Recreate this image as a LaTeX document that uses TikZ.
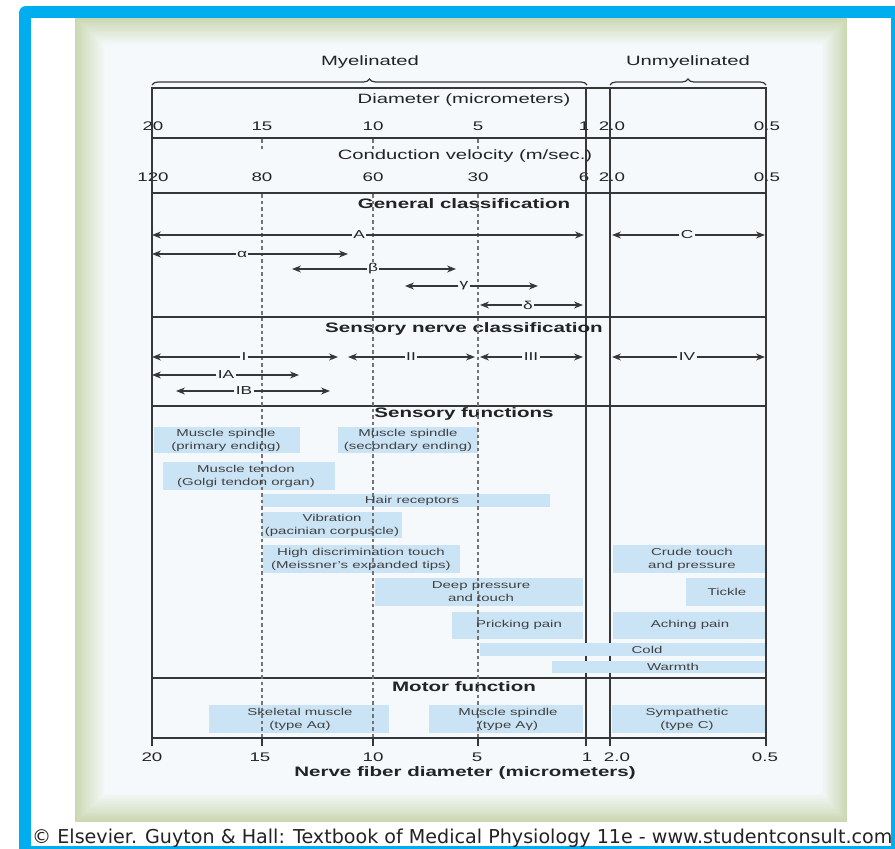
\documentclass[tikz,border=0pt]{standalone}
\usepackage{fontspec}
\setmainfont{Liberation Sans}[FakeStretch=1.5]
\newfontfamily\copyfont{DejaVu Sans}
\usetikzlibrary{arrows.meta,decorations.pathreplacing}
\definecolor{frameblue}{RGB}{0,174,239}
\definecolor{panelgreen}{RGB}{204,216,180}
\definecolor{panelin}{RGB}{246,249,252}
\definecolor{boxblue}{RGB}{203,228,245}
\definecolor{ink}{RGB}{55,55,55}
\definecolor{txt}{RGB}{35,35,35}
\definecolor{boxtxt}{RGB}{65,65,65}
\newcommand\rng[6]{%
  \node[lbl] (#1) at (#4,#2) {#6};
  \coordinate (#1L) at (#3,#2);
  \coordinate (#1R) at (#5,#2);
  \draw[arr] (#1) -- (#1L);
  \draw[arr] (#1) -- (#1R);
}
\newcommand\fnbox[5]{\fill[boxblue] (#2,#3) rectangle (#4,#5);\coordinate (#1) at ({(#2+#4)/2},{(#3+#5)/2});}
\begin{document}
\begin{tikzpicture}[x=1pt,y=-1pt,
  hline/.style={draw=ink,line width=1.4pt},
  bigline/.style={draw=ink,line width=2pt},
  vline/.style={draw=ink,line width=1.3pt},
  dashline/.style={draw=ink!70,line width=1.1pt,dash pattern=on 3.5pt off 3pt},
  arr/.style={draw=ink,line width=1.1pt,-{Stealth[length=9pt,width=7pt]}},
  lbl/.style={fill=panelin,inner sep=1.2pt,font=\fontsize{11.5}{12}\selectfont,text=txt},
  num/.style={inner sep=0pt,font=\fontsize{12.5}{13}\selectfont,text=txt},
  axtitle/.style={inner sep=0pt,font=\fontsize{13.5}{14}\selectfont,text=txt},
  heading/.style={inner sep=0pt,font=\fontsize{13.7}{14}\selectfont\bfseries,text=txt},
  boxtext/.style={inner sep=0pt,align=center,font=\fontsize{10}{13}\selectfont,text=boxtxt},
  brace/.style={draw=ink,line width=1.2pt,decorate,decoration={brace,amplitude=6pt}}]
\useasboundingbox (0,0) rectangle (895,849);
\clip (0,0) rectangle (895,849);
% frame
\fill[frameblue,rounded corners=7pt] (19,6) rectangle (910,870);
\fill[white] (31,18) rectangle (891,846);
% panel with soft edge
\foreach \i in {0,...,15}{
  \pgfmathtruncatemacro\pc{\i*100/15}
  \fill[panelin!\pc!panelgreen] ({75+2*\i},{18+1.8*\i}) rectangle ({847-1.7*\i},{822-1.9*\i});
}
% braces and top labels
\draw[brace] (152,85) -- (587,85);
\draw[brace] (610,85) -- (766,85);
\node[axtitle] (myel) at (370,62) {Myelinated};
\node[axtitle] (unmyel) at (688,62) {Unmyelinated};
% scale titles
\node[axtitle] (diam) at (464,100) {Diameter (micrometers)};
\node[axtitle] (cond) at (465,156) {Conduction velocity (m/sec.)};
% diameter numbers
\node[num] (d20) at (153,126) {20};
\node[num] (d15) at (262,126) {15};
\node[num] (d10) at (373,126) {10};
\node[num] (d5) at (478,126) {5};
\node[num] (d1) at (584,126) {1};
\node[num] (d2) at (612,126) {2.0};
\node[num] (d05) at (767,126) {0.5};
% velocity numbers
\node[num] (v120) at (153,177) {120};
\node[num] (v80) at (262,177) {80};
\node[num] (v60) at (373,177) {60};
\node[num] (v30) at (478,177) {30};
\node[num] (v6) at (584,177) {6};
\node[num] (v2) at (612,177) {2.0};
\node[num] (v05) at (767,177) {0.5};
% frame lines
\draw[vline] (586,88) -- (586,746);
\draw[vline] (610,88) -- (610,746);
\draw[hline] (152,138) -- (766,138);
\draw[hline] (152,193) -- (766,193);
\draw[hline] (152,317) -- (766,317);
\draw[hline] (152,406) -- (766,406);
\draw[hline] (152,678) -- (766,678);
\draw[bigline] (152,738) -- (766,738);
\draw[bigline] (152,88) -- (766,88);
\draw[bigline] (152,87) -- (152,746);
\draw[bigline] (766,87) -- (766,746);
% headings
\node[heading] (hgen) at (464,204) {General classification};
\node[heading] (hsens) at (464,329) {Sensory nerve classification};
\node[heading] (hfun) at (464,414) {Sensory functions};
\node[heading] (hmot) at (464,687) {Motor function};
% function boxes
\fnbox{bprim}{154}{427}{300}{453}
\fnbox{bsec}{338}{427}{478}{453}
\fnbox{bten}{163}{462}{335}{490}
\fnbox{bhair}{262}{494}{550}{507}
\fnbox{bvib}{262}{512}{402}{538}
\fnbox{bmeis}{263}{545}{460}{573}
\fnbox{bdeep}{375}{578}{583}{606}
\fnbox{bprick}{452}{612}{583}{639}
\fnbox{bcrude}{613}{545}{765}{573}
\fnbox{btick}{686}{578}{765}{606}
\fnbox{bache}{613}{612}{765}{639}
\fnbox{bcold}{480}{643}{765}{656}
\fnbox{bwarm}{552}{661}{765}{673}
\fnbox{bskel}{209}{705}{389}{733}
\fnbox{bspin}{429}{705}{583}{733}
\fnbox{bsymp}{612}{705}{765}{733}
% dashed lines
\foreach \xx in {262,373,478}{
  \draw[dashline] (\xx,139) -- (\xx,150);
  \draw[dashline] (\xx,194) -- (\xx,746);
}
% box texts
\node[boxtext] (tprim) at (226,440) {Muscle spindle\\(primary ending)};
\node[boxtext] (tsec) at (408,440) {Muscle spindle\\(secondary ending)};
\node[boxtext] (tten) at (246,476) {Muscle tendon\\(Golgi tendon organ)};
\node[boxtext] (thair) at (412,501) {Hair receptors};
\node[boxtext] (tvib) at (332,525) {Vibration\\(pacinian corpuscle)};
\node[boxtext] (tmeis) at (361,559) {High discrimination touch\\(Meissner's expanded tips)};
\node[boxtext] (tdeep) at (481,592) {Deep pressure\\and touch};
\node[boxtext] (tprick) at (519,625) {Pricking pain};
\node[boxtext] (tcrude) at (692,559) {Crude touch\\and pressure};
\node[boxtext] (ttick) at (727,592) {Tickle};
\node[boxtext] (tache) at (690,625) {Aching pain};
\node[boxtext] (tcold) at (647,649.5) {Cold};
\node[boxtext] (twarm) at (673,667) {Warmth};
\node[boxtext] (tskel) at (300,719) {Skeletal muscle\\(type Aα)};
\node[boxtext] (tspin) at (508,719) {Muscle spindle\\(type Aγ)};
\node[boxtext] (tsymp) at (687,719) {Sympathetic\\(type C)};
% general classification arrows
\rng{gA}{235}{152}{359}{584}{A}
\rng{gC}{235}{612}{687}{765}{C}
\rng{gal}{254}{152}{242}{348}{α}
\rng{gbe}{269}{292}{373}{456}{β}
\rng{gga}{286}{405}{464}{538}{γ}
\rng{gde}{305}{480}{528}{583}{δ}
% sensory nerve classification arrows
\rng{sI}{357}{152}{244}{338}{I}
\rng{sII}{357}{348}{411}{475}{II}
\rng{sIII}{357}{480}{531}{583}{III}
\rng{sIV}{357}{612}{687}{765}{IV}
\rng{sIA}{375}{152}{226}{299}{IA}
\rng{sIB}{391}{176}{244}{330}{IB}
% bottom axis
\foreach \xx in {262,373,478,586,610}{\draw[vline] (\xx,738) -- (\xx,746);}
\node[num] (b20) at (152,757) {20};
\node[num] (b15) at (260,757) {15};
\node[num] (b10) at (373,757) {10};
\node[num] (b5) at (477,757) {5};
\node[num] (b1) at (587,757) {1};
\node[num] (b2) at (617,757) {2.0};
\node[num] (b05) at (765,757) {0.5};
\node[heading] (xtitle) at (465,773) {Nerve fiber diameter (micrometers)};
% copyright
\node[inner sep=0pt,anchor=west,text=txt] (copy) at (32,838) {\resizebox{860pt}{!}{\copyfont © Elsevier. Guyton \& Hall: Textbook of Medical Physiology 11e - www.studentconsult.com}};
\end{tikzpicture}
\end{document}
